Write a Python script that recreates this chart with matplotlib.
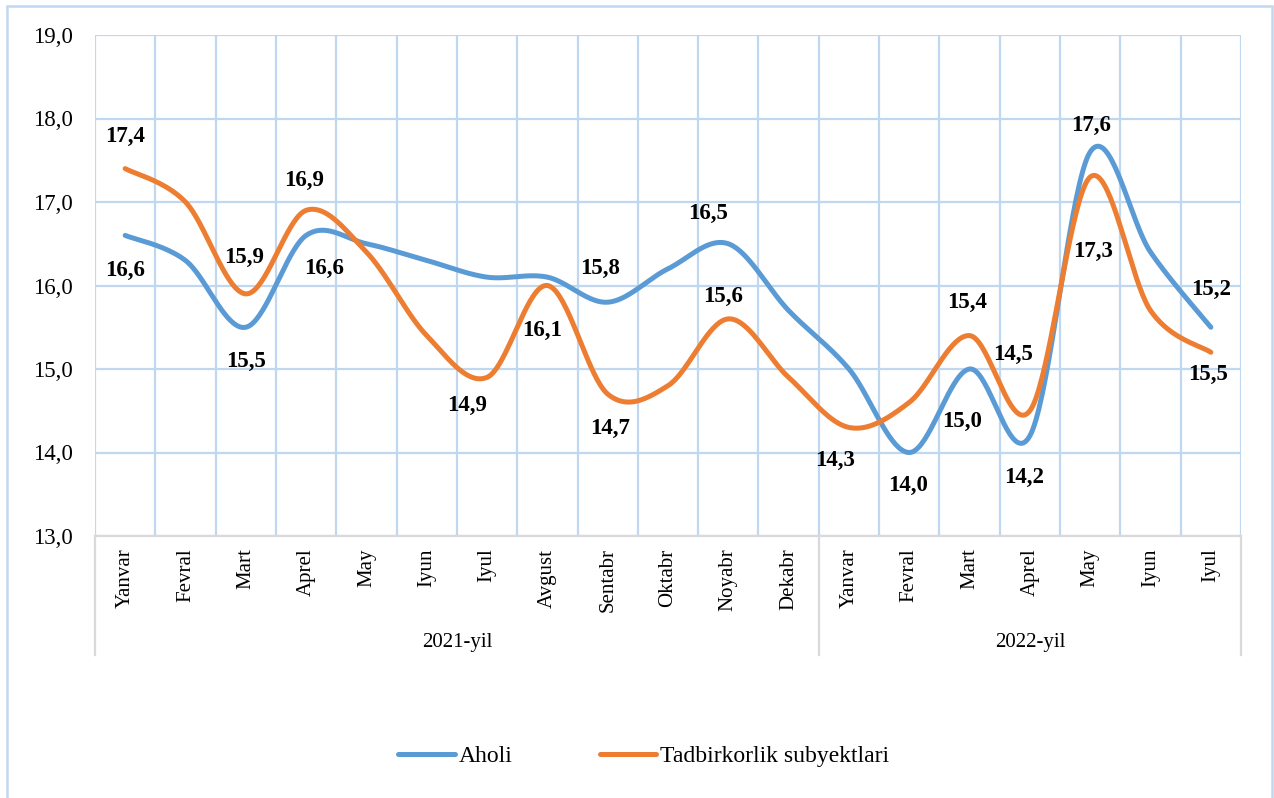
import numpy as np
import matplotlib
matplotlib.use("Agg")
import matplotlib.pyplot as plt
from matplotlib.patches import Rectangle
from matplotlib.lines import Line2D
import matplotlib.transforms as mtransforms

# ---------------- data ----------------
months_2021 = ["Yanvar", "Fevral", "Mart", "Aprel", "May", "Iyun", "Iyul",
               "Avgust", "Sentabr", "Oktabr", "Noyabr", "Dekabr"]
months_2022 = ["Yanvar", "Fevral", "Mart", "Aprel", "May", "Iyun", "Iyul"]
years = ["2021-yil", "2022-yil"]

aholi = [16.6, 16.3, 15.5, 16.6, 16.5, 16.3, 16.1, 16.1, 15.8, 16.2, 16.5, 15.7,
         15.0, 14.0, 15.0, 14.2, 17.6, 16.4, 15.5]
tadbirkorlik = [17.4, 17.0, 15.9, 16.9, 16.4, 15.4, 14.9, 16.0, 14.7, 14.8, 15.6, 14.9,
                14.3, 14.6, 15.4, 14.5, 17.3, 15.7, 15.2]

series_names = ["Aholi", "Tadbirkorlik subyektlari"]
y_ticks = [13, 14, 15, 16, 17, 18, 19]

# label placement (index -> offset in pixels dx, dy)
aholi_label_offsets = {0: (0, -35), 2: (0, -34), 3: (18, -33), 7: (-5, -53),
                       8: (-8, 34), 10: (-20, 30), 13: (-1, -33), 14: (-8, -52),
                       15: (-6, -42), 16: (1, 26), 18: (-3, -47)}
tadbir_label_offsets = {0: (0, 32), 2: (-2, 36), 3: (-2, 30), 6: (-20, -28),
                        8: (2, -34), 10: (-5, 22), 12: (-14, -33), 14: (-3, 33),
                        15: (-17, 56), 16: (3, -75), 18: (0, 63)}

BLUE = "#5B9BD5"
ORANGE = "#ED7D31"
GRID = "#C0D8EF"
AXGRAY = "#D9D9D9"
FONT = "Liberation Serif"

plt.rcParams["font.family"] = [FONT, "DejaVu Serif"]


def smooth(y, n=40):
    """Catmull-Rom / Excel style smoothed curve through points."""
    x = np.arange(len(y), dtype=float)
    y = np.asarray(y, dtype=float)
    pts = np.column_stack([x, y])
    ext = np.vstack([pts[0], pts, pts[-1]])
    out = []
    t = np.linspace(0, 1, n)
    for i in range(len(pts) - 1):
        p0, p1, p2, p3 = ext[i], ext[i + 1], ext[i + 2], ext[i + 3]
        b0 = p1
        b1 = p1 + (p2 - p0) / 6.0
        b2 = p2 - (p3 - p1) / 6.0
        b3 = p2
        seg = ((1 - t) ** 3)[:, None] * b0 + (3 * (1 - t) ** 2 * t)[:, None] * b1 \
            + (3 * (1 - t) * t ** 2)[:, None] * b2 + (t ** 3)[:, None] * b3
        out.append(seg if i == 0 else seg[1:])
    out = np.vstack(out)
    return out[:, 0], out[:, 1]


W, H = 1274, 798
fig = plt.figure(figsize=(W / 100, H / 100), dpi=100)
left, right, top, bottom = 95, 1241, 35, 536
ax = fig.add_axes([left / W, 1 - bottom / H, (right - left) / W, (bottom - top) / H])

n = len(months_2021) + len(months_2022)
ax.set_xlim(-0.5, n - 0.5)
ax.set_ylim(13, 19)

# grid
ax.set_yticks(y_ticks)
ax.set_yticklabels([f"{v:.1f}".replace(".", ",") for v in y_ticks], fontsize=16.5)
ax.set_xticks(np.arange(-0.5, n, 1.0), minor=True)
ax.set_xticks(np.arange(n))
ax.set_xticklabels(months_2021 + months_2022, rotation=90, fontsize=15)
ax.grid(axis="y", which="major", color=GRID, lw=1.6)
ax.grid(axis="x", which="minor", color=GRID, lw=1.6)
ax.grid(axis="x", which="major", visible=False)
ax.tick_params(axis="both", which="both", length=0)
ax.tick_params(axis="y", pad=16)
ax.tick_params(axis="x", pad=9)
ax.set_axisbelow(True)
for s in ["left", "right", "top"]:
    ax.spines[s].set_visible(False)
ax.spines["bottom"].set_color(AXGRAY)
ax.spines["bottom"].set_linewidth(1.6)
ax.spines["bottom"].set_zorder(1.5)

# lines
handles = []
for vals, color, name in [(aholi, BLUE, series_names[0]), (tadbirkorlik, ORANGE, series_names[1])]:
    xs, ys = smooth(vals)
    ln, = ax.plot(xs, ys, color=color, lw=3.6, solid_capstyle="round",
                  solid_joinstyle="round", label=name, zorder=3)
    handles.append(ln)

# data labels
px = 0.72
for vals, offs in [(aholi, aholi_label_offsets), (tadbirkorlik, tadbir_label_offsets)]:
    for i, (dx, dy) in offs.items():
        ax.annotate(f"{vals[i]:.1f}".replace(".", ","), (i, vals[i]),
                    xytext=(dx * px, dy * px), textcoords="offset points",
                    ha="center", va="center", fontsize=16.5, fontweight="bold",
                    color="black", zorder=4)

# multi-level category axis
trans = mtransforms.blended_transform_factory(ax.transData, ax.transAxes)
sep_bottom = -(655 - bottom) / (bottom - top)
for xb in [-0.5, len(months_2021) - 0.5, n - 0.5]:
    ax.add_line(Line2D([xb, xb], [0, sep_bottom], transform=trans, color=AXGRAY,
                       lw=1.6, clip_on=False))
year_y = -(642 - bottom) / (bottom - top)
ax.text((len(months_2021) - 1) / 2, year_y, years[0], transform=trans,
        ha="center", va="center", fontsize=15)
ax.text(len(months_2021) + (len(months_2022) - 1) / 2, year_y, years[1], transform=trans,
        ha="center", va="center", fontsize=15)

# legend
fig.legend(handles=handles, labels=series_names, loc="center",
           bbox_to_anchor=(643.5 / W, 1 - 756.5 / H), ncol=2, frameon=False,
           fontsize=17, handlelength=2.4, handletextpad=0.15, columnspacing=3.7)

# figure border (bottom edge lies outside the image)
fig.patches.append(Rectangle((7 / W, -10 / H), 1265 / W, 802 / H, transform=fig.transFigure,
                             fill=False, edgecolor=GRID, lw=1.8))

fig.savefig("out.png", dpi=100)
